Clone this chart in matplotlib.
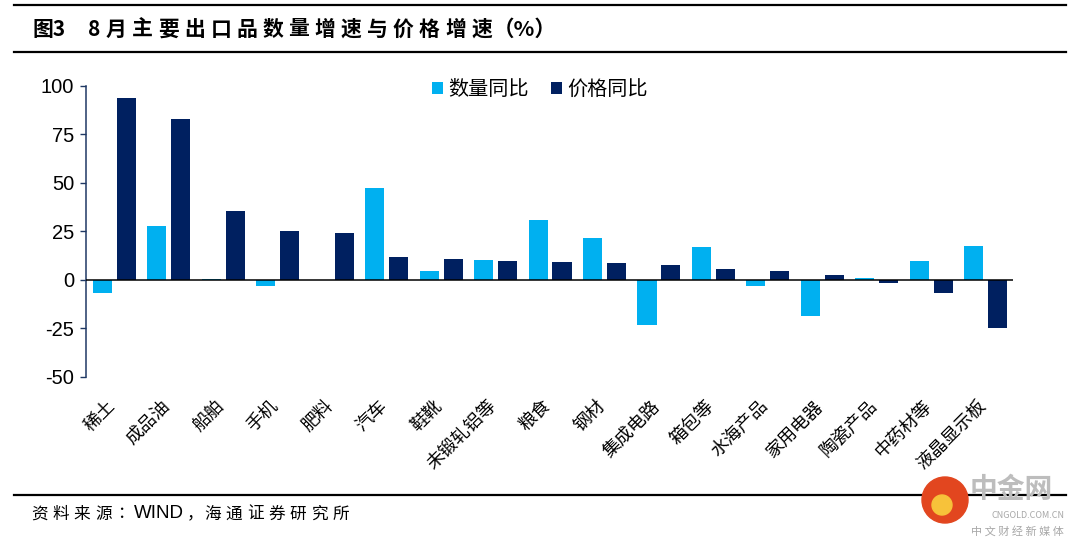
import matplotlib
matplotlib.use("Agg")
import matplotlib.pyplot as plt
import matplotlib.transforms as mtrans
from matplotlib.patches import Circle
import numpy as np

plt.rcParams['font.family'] = ['Noto Sans CJK SC', 'DejaVu Sans']

categories = ['稀土', '成品油', '船舶', '手机', '肥料', '汽车', '鞋靴', '未锻轧铝等', '粮食',
              '钢材', '集成电路', '箱包等', '水海产品', '家用电器', '陶瓷产品', '中药材等', '液晶显示板']
qty_yoy = [-6.5, 27.8, 0.5, -3.1, -0.2, 47.3, 4.6, 10.1, 31.1, 21.6, -23.4, 16.8, -3.1, -18.7, 1.0, 9.6, 17.5]
price_yoy = [93.6, 82.8, 35.7, 25.1, 24.0, 11.9, 10.8, 9.8, 9.3, 8.8, 7.7, 5.8, 4.5, 2.4, -1.7, -7.0, -24.6]
yticks = [-50, -25, 0, 25, 50, 75, 100]
legend_labels = ['数量同比', '价格同比']
title_parts = ['图3', '8', '月主要出口品数量增速与价格增速', '（%）']
source_tokens = list('资料来源：') + ['WIND'] + list('，海通证券研究所')

light = '#00B0F0'
dark = '#002060'
W, H = 1080, 547

fig = plt.figure(figsize=(W / 100, H / 100), dpi=100)
ax = fig.add_axes([86 / W, 1 - 377 / H, (1013 - 86) / W, (377 - 85.7) / H])

x = np.arange(len(categories))
w = 0.35
ax.bar(x - 0.22, qty_yoy, width=w, color=light, label=legend_labels[0], zorder=2)
ax.bar(x + 0.22, price_yoy, width=w, color=dark, label=legend_labels[1], zorder=2)

ax.set_ylim(-50, 100)
ax.set_xlim(-0.52, len(categories) - 0.5)
ax.set_yticks(yticks)
ax.set_yticklabels([str(v) for v in yticks], fontsize=14.5, family=['Liberation Sans', 'DejaVu Sans'])
ax.tick_params(axis='y', direction='out', length=4.5, width=1, color='#1F3864', pad=4)
ax.axhline(0, color='black', lw=1.1, zorder=3)

for s in ['top', 'right', 'bottom']:
    ax.spines[s].set_visible(False)
ax.spines['left'].set_color('#1F3864')
ax.spines['left'].set_linewidth(1.1)

ax.set_xticks(x)
ax.set_xticklabels(categories, rotation=45, fontsize=13)
ax.tick_params(axis='x', length=0, pad=19)
for lbl in ax.get_xticklabels():
    lbl.set_ha('right')
    lbl.set_va('center')
    lbl.set_rotation_mode('anchor')
    lbl.set_transform(lbl.get_transform() + mtrans.ScaledTranslation(-0.02, 0, fig.dpi_scale_trans))

fig.legend(loc='center left', bbox_to_anchor=(432 / W, 1 - 90 / H), ncol=2, frameon=False,
           fontsize=14.5, handlelength=0.55, handleheight=0.55, handletextpad=0.25,
           columnspacing=1.1, borderpad=0, borderaxespad=0)

renderer = fig.canvas.get_renderer()


def put(xx, y, tok, size, **kw):
    t = fig.text(xx / W, 1 - y / H, tok, fontsize=size, va='center', ha='left', **kw)
    return t.get_window_extent(renderer).width


# Title band
fig.add_artist(plt.Line2D([14 / W, 1066 / W], [1 - 5 / H, 1 - 5 / H], color='black', lw=1.6))
fig.add_artist(plt.Line2D([14 / W, 1066 / W], [1 - 52 / H, 1 - 52 / H], color='black', lw=1.6))
put(32, 29, title_parts[0], 15, fontweight='bold')
put(88, 29, title_parts[1], 15, fontweight='bold')
xx = 106
for ch in title_parts[2]:
    xx += put(xx, 29, ch, 15, fontweight='bold') + 5.2
put(xx - 4, 29, title_parts[3], 15.5, fontweight='bold')

# Footer
fig.add_artist(plt.Line2D([14 / W, 1066 / W], [1 - 495 / H, 1 - 495 / H], color='black', lw=1.6))
xx = 31
for tok in source_tokens:
    if tok == 'WIND':
        xx += put(xx, 514, tok, 13.5, family=['Liberation Sans', 'DejaVu Sans']) + 2
    elif tok in ('：', '，'):
        xx += put(xx, 514, tok, 12) + 1
    else:
        xx += put(xx, 514, tok, 12) + 4.8

# Watermark logo
fig.add_artist(Circle((9.45, (H - 500) / 100), 0.23, transform=fig.dpi_scale_trans,
                      color='#E2461F', zorder=5))
fig.add_artist(Circle((9.42, (H - 505) / 100), 0.10, transform=fig.dpi_scale_trans,
                      color='#F7C23A', zorder=6))
fig.text(970 / W, 1 - 490 / H, '中金网', fontsize=20, color='#BDBDBD', va='center', ha='left',
         fontweight='bold')
fig.text(1064 / W, 1 - 515 / H, 'CNGOLD.COM.CN', fontsize=6.5, color='#A8A8A8', va='center', ha='right')
fig.text(1064 / W, 1 - 531 / H, '中 文 财 经 新 媒 体', fontsize=8, color='#A8A8A8', va='center', ha='right')

fig.savefig('out.png', dpi=100)
